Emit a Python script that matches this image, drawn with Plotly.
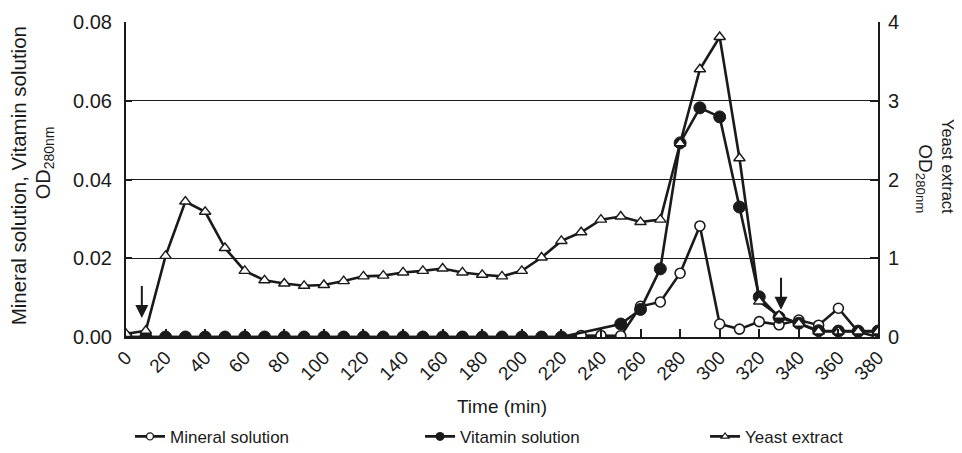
import plotly.graph_objects as go

time_min = [0, 10, 20, 30, 40, 50, 60, 70, 80, 90, 100, 110, 120, 130, 140, 150, 160, 170, 180, 190,
            200, 210, 220, 230, 240, 250, 260, 270, 280, 290, 300, 310, 320, 330, 340, 350, 360, 370, 380]

mineral = [0, 0, 0, 0, 0, 0, 0, 0, 0, 0, 0, 0, 0, 0, 0, 0, 0, 0, 0, 0,
           0, 0, 0, 0.0004, 0.0004, 0.0003, 0.0078, 0.0089, 0.0162, 0.0282, 0.0033, 0.0020, 0.0039, 0.0031,
           0.0043, 0.0030, 0.0073, 0.0013, 0.0]

vitamin = [0, 0, 0, 0, 0, 0, 0, 0, 0, 0, 0, 0, 0, 0, 0, 0, 0, 0, 0, 0,
           0, 0, 0, None, None, 0.0033, 0.0070, 0.0173, 0.0493, 0.0582, 0.0559, 0.0330, 0.0102, 0.0050,
           0.0035, 0.0016, 0.0015, 0.0015, 0.0015]

yeast = [0.04, 0.08, 1.03, 1.72, 1.59, 1.13, 0.84, 0.72, 0.68, 0.65, 0.66, 0.71, 0.77, 0.78, 0.82, 0.84,
         0.87, 0.82, 0.79, 0.77, 0.84, 1.01, 1.22, 1.33, 1.49, 1.53, 1.46, 1.49, 2.46, 3.40, 3.81, 2.27,
         0.45, 0.27, 0.17, 0.07, 0.07, 0.07, 0.07]

x_ticks = [0, 20, 40, 60, 80, 100, 120, 140, 160, 180, 200, 220, 240, 260, 280, 300, 320, 340, 360, 380]
left_ticks = [0.00, 0.02, 0.04, 0.06, 0.08]
right_ticks = [0, 1, 2, 3, 4]
arrow_times = [8, 331]
arrow_heads = [0.0048, 0.0069]

FONT = "Liberation Sans, Arial, Helvetica, sans-serif"
BLACK = "#1a1a1a"

fig = go.Figure()

fig.add_trace(go.Scatter(x=time_min, y=mineral, mode="lines+markers", name="Mineral solution",
                         line=dict(color=BLACK, width=2.6),
                         marker=dict(symbol="circle", size=10, color="white", line=dict(color=BLACK, width=1.6)),
                         showlegend=False))
fig.add_trace(go.Scatter(x=time_min, y=vitamin, mode="lines+markers", name="Vitamin solution",
                         connectgaps=True,
                         line=dict(color=BLACK, width=2.6),
                         marker=dict(symbol="circle", size=12, color=BLACK, line=dict(color=BLACK, width=1)),
                         showlegend=False))
fig.add_trace(go.Scatter(x=time_min, y=yeast, mode="lines+markers", name="Yeast extract", yaxis="y2",
                         line=dict(color=BLACK, width=2.6),
                         marker=dict(symbol="triangle-up", size=10, color="white", line=dict(color=BLACK, width=1.4)),
                         showlegend=False))

# legend-only entries with small symbols, one legend each so they can be placed freely
fig.add_trace(go.Scatter(x=[None], y=[None], mode="lines+markers", name="Mineral solution", legend="legend",
                         line=dict(color=BLACK, width=2.6),
                         marker=dict(symbol="circle", size=7, color="white", line=dict(color=BLACK, width=1.4))))
fig.add_trace(go.Scatter(x=[None], y=[None], mode="lines+markers", name="Vitamin solution", legend="legend2",
                         line=dict(color=BLACK, width=2.6),
                         marker=dict(symbol="circle", size=9, color=BLACK)))
fig.add_trace(go.Scatter(x=[None], y=[None], mode="lines+markers", name="Yeast extract", legend="legend3",
                         line=dict(color=BLACK, width=2.6),
                         marker=dict(symbol="triangle-up", size=7, color="white", line=dict(color=BLACK, width=1.2))))

for t, yh in zip(arrow_times, arrow_heads):
    fig.add_annotation(x=t, y=yh, xref="x", yref="y", ax=0, ay=-44, showarrow=True,
                       arrowhead=2, arrowsize=1.3, arrowwidth=2, arrowcolor=BLACK, text=" ")

title_font_l = dict(family=FONT, size=20.5, color=BLACK)
fig.add_annotation(text="Mineral solution, Vitamin solution", xref="paper", yref="paper",
                   x=-0.1436, y=0.51, textangle=-90, showarrow=False, font=title_font_l,
                   xanchor="center", yanchor="middle")
fig.add_annotation(text="OD<sub>280nm</sub>", xref="paper", yref="paper",
                   x=-0.108, y=0.554, textangle=-90, showarrow=False, font=dict(family=FONT, size=20, color=BLACK),
                   xanchor="center", yanchor="middle")
fig.add_annotation(text="Yeast extract", xref="paper", yref="paper",
                   x=1.094, y=0.541, textangle=90, showarrow=False, font=dict(family=FONT, size=16.5, color=BLACK),
                   xanchor="center", yanchor="middle")
fig.add_annotation(text="OD<sub>280nm</sub>", xref="paper", yref="paper",
                   x=1.062, y=0.502, textangle=90, showarrow=False, font=dict(family=FONT, size=19, color=BLACK),
                   xanchor="center", yanchor="middle")

legend_common = dict(orientation="h", y=-0.317, yanchor="middle", xanchor="left",
                     font=dict(size=17), bgcolor="rgba(0,0,0,0)")

fig.update_layout(
    width=954, height=445,
    margin=dict(l=118, r=84, t=14, b=116, autoexpand=False),
    paper_bgcolor="white", plot_bgcolor="white",
    font=dict(family=FONT, size=19, color=BLACK),
    xaxis=dict(range=[0, 380], tickvals=x_ticks, ticktext=[str(v) for v in x_ticks], tickangle=-45,
               ticks="inside", ticklen=8, tickwidth=2, tickcolor=BLACK,
               showline=True, linecolor=BLACK, linewidth=2, mirror=False, showgrid=False, zeroline=False,
               title=dict(text="Time (min)", font=dict(size=19), standoff=16),
               tickfont=dict(size=19)),
    yaxis=dict(range=[0, 0.08], tickvals=left_ticks, tickformat=".2f",
               ticks="inside", ticklen=6, tickwidth=2, tickcolor=BLACK, ticklabelstandoff=8,
               showline=True, linecolor=BLACK, linewidth=2, showgrid=True, gridcolor=BLACK, gridwidth=1,
               zeroline=False, tickfont=dict(size=20)),
    yaxis2=dict(range=[0, 4], tickvals=right_ticks, overlaying="y", side="right",
                ticks="inside", ticklen=8, tickwidth=2, tickcolor=BLACK, ticklabelstandoff=4,
                showline=True, linecolor=BLACK, linewidth=2, showgrid=False, zeroline=False,
                tickfont=dict(size=20)),
    legend=dict(x=0.0053, **legend_common),
    legend2=dict(x=0.391, **legend_common),
    legend3=dict(x=0.770, **legend_common),
)

fig.write_html("out.html")
